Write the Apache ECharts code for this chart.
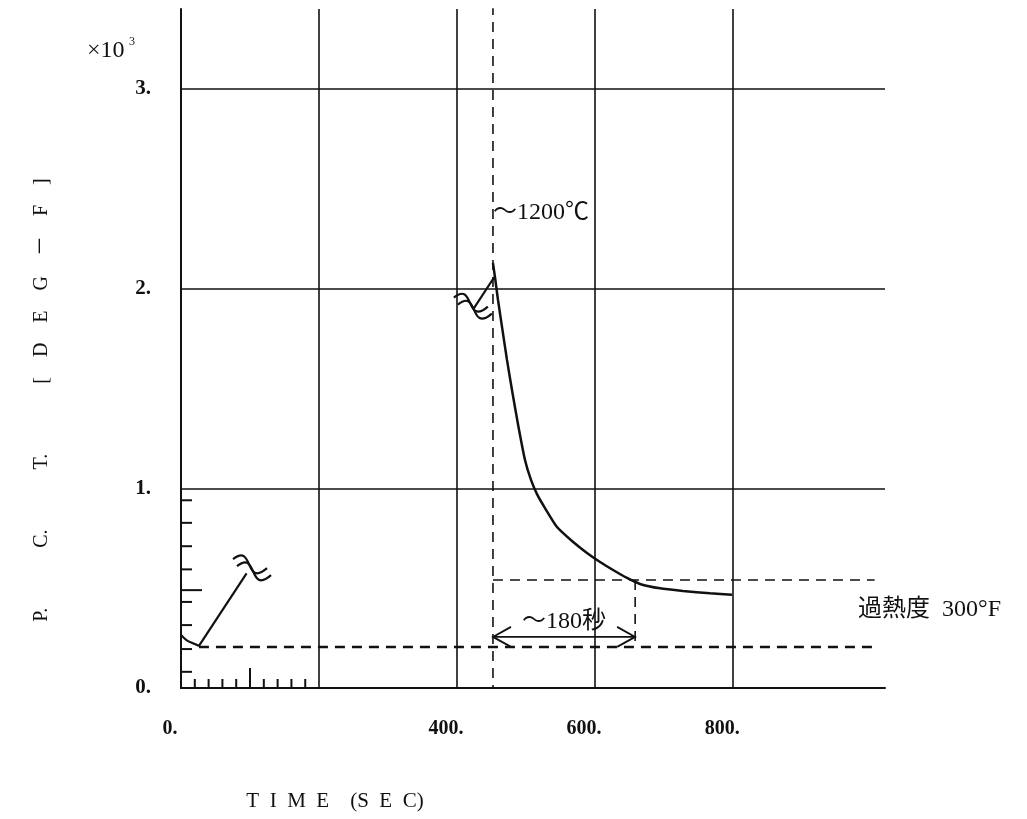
<!DOCTYPE html>
<html><head><meta charset="utf-8">
<script src="https://cdn.jsdelivr.net/npm/echarts@6/dist/echarts.min.js"></script>
<style>html,body{margin:0;padding:0;background:#fff}#c{width:1027px;height:819px}</style>
</head><body><div id="c"></div>
<script>
// ---- data (time in sec, temperature in deg F) ----
const xLabelMap = {0: '0.', 400: '400.', 600: '600.', 800: '800.'};
const yLabelMap = {0: '0.', 1000: '1.', 2000: '2.', 3000: '3.'};
const gridTimes = [200, 400, 600, 800];
const gridTemps = [1000, 2000, 3000];
const initialDip = [[0, 266], [8, 240], [18, 223], [26, 211]];
const earlyRise = [[26, 211], [95, 574]];
const riseSegment = [[424, 1900], [454, 2058]];
const mainCurve = [[452, 2128], [454.9, 2058], [459.3, 1943], [465.1, 1808], [472.3, 1643], [480.3, 1477], [489, 1307], [498.4, 1142], [507.1, 1042], [515.8, 971], [527.4, 901], [544.8, 806], [566.5, 736], [588.2, 676], [607.1, 631], [626, 591], [646.2, 551], [665, 521], [694, 499], [727.3, 486], [766.4, 474], [798.3, 467]];
const lowerDash = [[26, 205], [1010, 205]];
const upperDash = [[452, 541], [1005, 541]];
const peakTimeLine = [[452, 3420], [452, 0]];
const endTimeLine = [[658, 541], [658, 215]];
const spanArrow = [[452, 658, 256]];
const breakMarks = [[100, 605], [420, 1915]];
const yMinorTicks = [81, 195, 315, 431, 594, 710, 827, 940];
const yLongTicks = [490];
const xMinorTicks = [20, 40, 60, 80, 120, 140, 160, 180];
const xLongTicks = [100];
const noteTexts = ['～1200℃', '～180秒', '過熱度\u2002300°F'];
const noteAnchors = [[452, 2382], [555, 330], [981, 390]];

const SERIF = "'Liberation Serif', 'Noto Sans CJK JP', serif";
const INK = '#111';

const chart = echarts.init(document.getElementById('c'), null, {renderer: 'canvas'});

function tickSeries(values, axis, len) {
  return {
    type: 'custom', silent: true, z: 5,
    data: values.map(v => axis === 'y' ? [0, v] : [v, 0]),
    renderItem(params, api) {
      const p = api.coord([api.value(0), api.value(1)]);
      const shape = axis === 'y'
        ? {x1: p[0], y1: p[1], x2: p[0] + len, y2: p[1]}
        : {x1: p[0], y1: p[1], x2: p[0], y2: p[1] - len};
      return {type: 'line', shape, style: {stroke: INK, lineWidth: 2}};
    }
  };
}

function lineSeries(data, width, dashed, smooth) {
  return {
    type: 'line', data, symbol: 'none', silent: true, z: 4,
    smooth: smooth || false,
    lineStyle: {color: INK, width, type: dashed ? [10, 7] : 'solid'},
    animation: false
  };
}

const option = {
  animation: false,
  backgroundColor: '#fff',
  grid: {left: 181, top: 9, right: 142, bottom: 131},
  xAxis: {
    type: 'value', min: 0, max: 1020, interval: 200,
    axisLine: {show: true, onZero: false, lineStyle: {color: INK, width: 2}},
    axisTick: {show: false}, splitLine: {show: false},
    axisLabel: {
      formatter: v => xLabelMap[v] || '', margin: 31, padding: [0, 22, 0, 0],
      fontFamily: SERIF, fontSize: 20, fontWeight: 'bold', color: INK
    }
  },
  yAxis: {
    type: 'value', min: 0, max: 3400, interval: 1000,
    axisLine: {show: true, onZero: false, lineStyle: {color: INK, width: 2}},
    axisTick: {show: false}, splitLine: {show: false},
    axisLabel: {
      formatter: v => yLabelMap[v] || '', margin: 30,
      fontFamily: SERIF, fontSize: 21, fontWeight: 'bold', color: INK
    }
  },
  graphic: [
    {type: 'text', left: 87, top: 39, style: {text: '×10', font: "24px " + SERIF, fill: INK}},
    {type: 'text', left: 129, top: 36, style: {text: '3', font: "12px " + SERIF, fill: INK}},
    {type: 'text', x: 335, y: 801, style: {text: 'T\u2002I\u2002M\u2002E\u2002\u2002(S\u2002E\u2002C)', font: "21px " + SERIF, fill: INK, align: 'center', verticalAlign: 'middle'}},
    {type: 'text', x: 42, y: 400, rotation: Math.PI / 2,
      style: {text: 'P.\u2003\u2003\u2003C.\u2003\u2003\u2003T.\u2003\u2003\u2003\u2002[\u2003D\u2003E\u2003G\u2003－\u2003F\u2003]', font: "20px " + SERIF, fill: INK, align: 'center', verticalAlign: 'middle'}}
  ],
  series: [
    {
      type: 'line', data: [], silent: true,
      markLine: {
        silent: true, symbol: 'none', animation: false,
        label: {show: false},
        lineStyle: {color: INK, width: 1.6, type: 'solid'},
        data: gridTimes.map(t => ({xAxis: t})).concat(gridTemps.map(v => ({yAxis: v})))
      }
    },
    lineSeries(initialDip, 2.2, false, 0.4),
    lineSeries(earlyRise, 2.2, false),
    lineSeries(riseSegment, 2.2, false),
    lineSeries(mainCurve, 2.5, false, 0.2),
    lineSeries(lowerDash, 2.6, true),
    lineSeries(upperDash, 1.6, true),
    lineSeries(peakTimeLine, 1.6, true),
    lineSeries(endTimeLine, 1.6, true),
    tickSeries(yMinorTicks, 'y', 11),
    tickSeries(yLongTicks, 'y', 21),
    tickSeries(xMinorTicks, 'x', 9),
    tickSeries(xLongTicks, 'x', 20),
    {
      type: 'custom', silent: true, z: 6, data: breakMarks,
      renderItem(params, api) {
        const p = api.coord([api.value(0), api.value(1)]);
        const s = {fill: 'none', stroke: INK, lineWidth: 2.2};
        return {type: 'group', x: p[0], y: p[1], children: [
          {type: 'bezierCurve', shape: {x1: -17, y1: -8, cpx1: 4, cpy1: -25, cpx2: -6, cpy2: 21, x2: 17, y2: 1}, style: s},
          {type: 'bezierCurve', shape: {x1: -13, y1: -1, cpx1: 8, cpy1: -18, cpx2: -2, cpy2: 28, x2: 21, y2: 8}, style: s}
        ]};
      }
    },
    {
      type: 'custom', silent: true, z: 6, data: spanArrow,
      renderItem(params, api) {
        const a = api.coord([api.value(0), api.value(2)]);
        const b = api.coord([api.value(1), api.value(2)]);
        const s = {fill: 'none', stroke: INK, lineWidth: 1.8};
        return {type: 'group', children: [
          {type: 'line', shape: {x1: a[0], y1: a[1], x2: b[0], y2: b[1]}, style: s},
          {type: 'polyline', shape: {points: [[a[0] + 18, a[1] - 10], a, [a[0] + 18, a[1] + 10]]}, style: s},
          {type: 'polyline', shape: {points: [[b[0] - 18, b[1] - 10], b, [b[0] - 18, b[1] + 10]]}, style: s}
        ]};
      }
    },
    {
      type: 'custom', silent: true, z: 7, data: noteAnchors,
      renderItem(params, api) {
        const p = api.coord([api.value(0), api.value(1)]);
        const aligns = ['left', 'center', 'left'];
        return {type: 'text', x: p[0], y: p[1], style: {
          text: noteTexts[params.dataIndex], font: "24px " + SERIF, fill: INK,
          align: aligns[params.dataIndex], verticalAlign: 'middle'
        }};
      }
    }
  ]
};
chart.setOption(option);
</script>
</body></html>
